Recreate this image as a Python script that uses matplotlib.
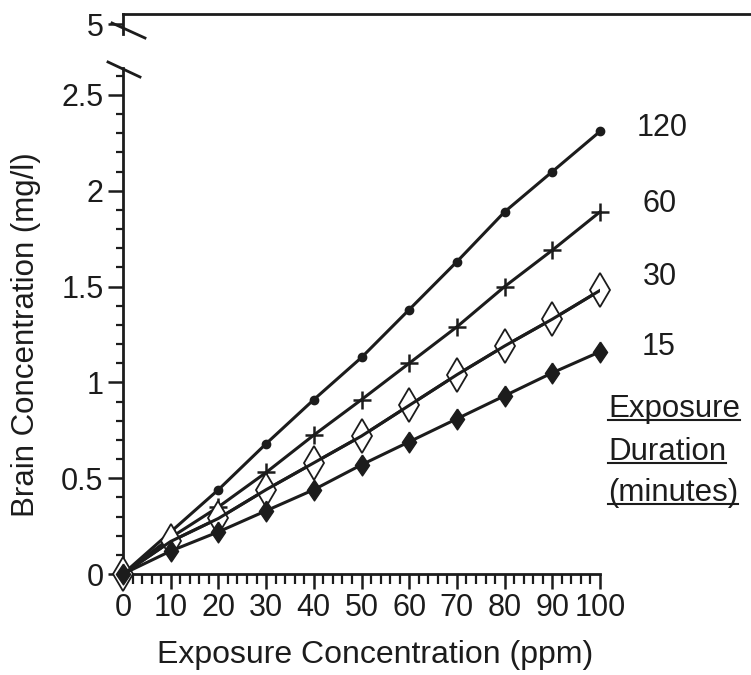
import matplotlib
matplotlib.use("Agg")
import matplotlib.pyplot as plt
from matplotlib.ticker import MultipleLocator, FixedLocator

plt.rcParams['font.family'] = ['Liberation Sans', 'DejaVu Sans']

conc = [0, 10, 20, 30, 40, 50, 60, 70, 80, 90, 100]
dur_120 = [0, 0.22, 0.44, 0.68, 0.91, 1.13, 1.38, 1.63, 1.89, 2.10, 2.31]
dur_60 = [0, 0.19, 0.35, 0.53, 0.725, 0.91, 1.10, 1.29, 1.50, 1.69, 1.89]
dur_30 = [0, 0.17, 0.29, 0.44, 0.58, 0.72, 0.88, 1.04, 1.19, 1.33, 1.48]
dur_15 = [0, 0.12, 0.22, 0.33, 0.44, 0.57, 0.69, 0.81, 0.93, 1.05, 1.16]
series_labels = ["120", "60", "30", "15"]
legend_lines = ["Exposure", "Duration", "(minutes)"]
ytick_vals = [0, 0.5, 1, 1.5, 2, 2.5]
ytick_labels = ["0", "0.5", "1", "1.5", "2", "2.5"]
top_value = 5

ink = "#1c1c1c"
W, H = 751, 675
fig = plt.figure(figsize=(W / 100, H / 100), dpi=100)

def fx(px):
    return px / W

def fy(py):
    return 1 - py / H

x0, x1 = 123, 600
yb, yt = 574, 68
ax = fig.add_axes([fx(x0), fy(yb), fx(x1) - fx(x0), fy(yt) - fy(yb)])
ymax = (yb - yt) / 191.6
ax.set_xlim(0, 100)
ax.set_ylim(0, ymax)
for s in ["top", "right"]:
    ax.spines[s].set_visible(False)
for s in ["left", "bottom"]:
    ax.spines[s].set_linewidth(2)
    ax.spines[s].set_color(ink)

tall_diamond = [(0, 1), (0.68, 0), (0, -1), (-0.68, 0), (0, 1)]

lw = 2.2
ax.plot(conc, dur_120, color=ink, lw=lw, marker='o', ms=6, clip_on=False, zorder=5)
ax.plot(conc, dur_60, color=ink, lw=lw, marker='+', ms=13, mew=1.8, clip_on=False, zorder=5)
ax.plot(conc, dur_30, color=ink, lw=lw, marker='d', ms=17, mew=1.3, mfc='white',
        clip_on=False, zorder=5)
ax.plot(conc, dur_30, color=ink, lw=lw, zorder=6)
ax.plot(conc, dur_15, color=ink, lw=lw, marker=tall_diamond, ms=15, clip_on=False,
        zorder=7)

ax.xaxis.set_major_locator(MultipleLocator(10))
ax.xaxis.set_minor_locator(MultipleLocator(2))
ax.yaxis.set_major_locator(FixedLocator(ytick_vals))
ax.yaxis.set_minor_locator(MultipleLocator(0.1))
ax.set_yticklabels(ytick_labels)
ax.tick_params(which='major', direction='out', length=11, width=1.8, color=ink,
               labelsize=22, labelcolor=ink, pad=3)
ax.tick_params(axis='y', which='minor', direction='out', length=5, width=1.6, color=ink)
ax.tick_params(axis='x', which='minor', direction='out', length=7, width=1.6, color=ink)
ax.tick_params(axis='x', which='major', pad=3)

fig.text(fx(375), fy(663), "Exposure Concentration (ppm)", fontsize=23, color=ink,
         ha='center', va='baseline')
fig.text(fx(26), fy(335), "Brain Concentration (mg/l)", fontsize=22.5, color=ink,
         ha='center', va='center', rotation=90)

# series labels at the right
label_base = [136, 212, 285, 355]
label_left = [637, 643, 643, 642]
for lab, xb, yb_ in zip(series_labels, label_left, label_base):
    fig.text(fx(xb), fy(yb_), lab, fontsize=22, color=ink, ha='left', va='baseline')

fig.canvas.draw()
renderer = fig.canvas.get_renderer()
leg_base = [417, 460, 501]
for t, b in zip(legend_lines, leg_base):
    tx = fig.text(fx(608), fy(b), t, fontsize=22.5, color=ink, ha='left', va='baseline')
    bb = tx.get_window_extent(renderer=renderer)
    fig.add_artist(plt.Line2D([bb.x0 / W, bb.x1 / W], [fy(b + 2.5)] * 2, color=ink,
                              lw=1.5))

# break mark on lower axis top
fig.add_artist(plt.Line2D([fx(108), fx(140)], [fy(62), fy(77)], color=ink, lw=2))

# upper axis with value 5
ax2 = fig.add_axes([fx(x0), fy(34), fx(x1) - fx(x0), fy(14) - fy(34)])
ax2.set_xlim(0, 100)
ax2.set_ylim(top_value - 0.1, top_value + 0.1)
for s in ["top", "right", "bottom"]:
    ax2.spines[s].set_visible(False)
ax2.spines["left"].set_linewidth(2)
ax2.spines["left"].set_color(ink)
ax2.set_xticks([])
ax2.set_yticks([top_value])
ax2.set_yticklabels([str(top_value)])
ax2.tick_params(axis='y', direction='out', length=11, width=1.8, color=ink,
                labelsize=22, labelcolor=ink, pad=3)
ax2.plot([0, 1.35], [1, 1], transform=ax2.transAxes, color=ink, lw=2, clip_on=False)
ax2.patch.set_alpha(0)
fig.add_artist(plt.Line2D([fx(112), fx(145)], [fy(23), fy(38)], color=ink, lw=2))

fig.savefig("out.png", dpi=100, facecolor='white')
